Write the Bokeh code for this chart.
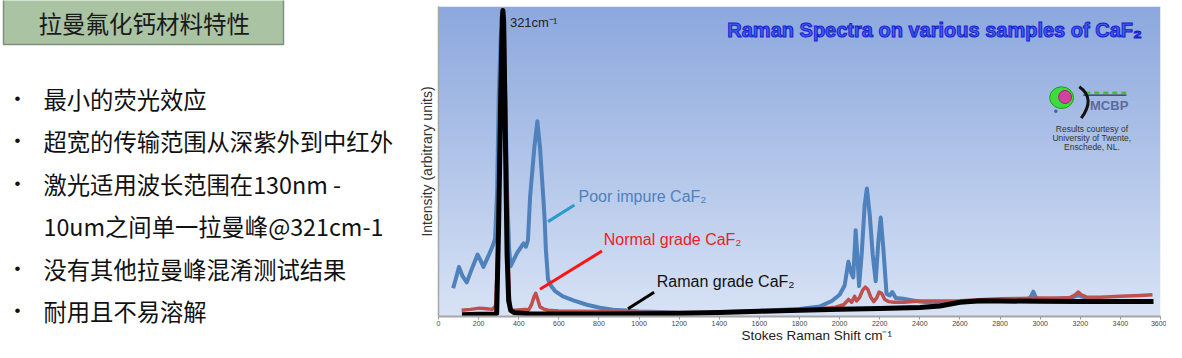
import numpy as np
from bokeh.plotting import figure
from bokeh.layouts import row, column
from bokeh.models import Range1d, Label, FixedTicker
from bokeh.core.properties import value
from bokeh.embed import file_html
from bokeh.resources import INLINE

# ---------------- data ----------------
title_cn = "拉曼氟化钙材料特性"
bullet_lines = ["最小的荧光效应", "超宽的传输范围从深紫外到中红外", "激光适用波长范围在130nm -",
                "10um之间单一拉曼峰@321cm-1", "没有其他拉曼峰混淆测试结果", "耐用且不易溶解"]
bullet_flags = [True, True, True, False, True, True]

x_ticks = list(range(0, 3601, 200))
x_title = "Stokes Raman Shift cm⁻¹"
y_title = "Intensity (arbitrary units)"

raman_x = [117, 200, 280, 290, 300, 310, 318, 321, 325, 333, 342, 350, 360, 380, 450, 600, 800, 1000,
           1200, 1400, 1600, 1800, 2000, 2200, 2400, 2500, 2600, 2700, 2800, 3000, 3200, 3400, 3565]
raman_y = [0.6, 0.7, 0.8, 1.0, 30, 70, 96, 98.7, 95, 60, 20, 5, 2, 1.2, 0.9, 0.8, 0.8, 0.9,
           1.0, 1.3, 1.7, 2.0, 2.3, 2.6, 2.9, 3.4, 4.6, 5.1, 5.0, 4.9, 4.8, 4.8, 4.8]

normal_x = [115, 160, 205, 240, 268, 285, 295, 305, 315, 322, 328, 336, 344, 352, 359, 380, 433, 449,
            465, 477, 485, 495, 506, 525, 546, 600, 800, 1000, 1200, 1400, 1600, 1800, 1900, 1980,
            2020, 2045, 2060, 2075, 2085, 2100, 2115, 2128, 2140, 2155, 2170, 2185, 2197, 2210, 2225,
            2245, 2270, 2320, 2400, 2600, 2800, 2900, 3000, 3100, 3150, 3175, 3190, 3205, 3230, 3300,
            3400, 3500, 3560]
normal_y = [2.0, 2.3, 2.7, 2.5, 2.3, 3.5, 20, 55, 88, 97, 90, 60, 25, 8, 1.8, 2.0, 2.3, 2.0,
            4.0, 6.5, 7.5, 5.5, 3.1, 2.4, 2.0, 1.8, 1.6, 1.4, 1.3, 1.4, 1.6, 2.0, 2.5, 3.0,
            3.8, 5.5, 4.6, 6.5, 5.0, 6.2, 8.5, 9.5, 8.8, 6.3, 4.8, 6.0, 7.9, 7.4, 5.5,
            4.8, 4.6, 4.6, 5.0, 5.1, 5.7, 5.8, 6.0, 5.9, 6.1, 7.0, 7.9, 7.0, 6.3, 6.2,
            6.5, 6.8, 7.0]

poor_x = [73, 90, 102, 120, 141, 170, 195, 210, 224, 245, 268, 282, 292, 300, 310, 318, 321, 326, 334,
          342, 352, 359, 392, 424, 436, 446, 457, 478, 493, 506, 522, 530, 535, 546, 560, 580, 620,
          676, 740, 805, 870, 936, 1000, 1200, 1400, 1600, 1800, 1900, 1961, 2000, 2025, 2044, 2058,
          2068, 2080, 2090, 2097, 2110, 2125, 2136, 2150, 2165, 2180, 2193, 2205, 2218, 2234, 2250,
          2263, 2280, 2317, 2400, 2500, 2600, 2700, 2800, 2900, 2940, 2955, 2966, 2977, 2990, 3050,
          3150, 3190, 3230, 3300]
poor_y = [9.1, 13, 16, 13, 11, 16, 20, 18, 16, 19, 22.4, 25, 40, 70, 90, 95, 96, 92, 70,
          40, 22, 16.2, 20.5, 23.6, 22.5, 24.6, 38.8, 54.6, 63, 54.6, 38.8, 30.4, 22, 12, 10, 8.3, 6.5,
          5.1, 3.8, 2.8, 2.2, 1.9, 1.6, 1.3, 1.4, 1.8, 2.4, 3.2, 5.0, 7.0, 10, 17.7, 14,
          12.6, 27.8, 18, 9.8, 20, 36, 41.3, 33, 20, 11.4, 24, 31.9, 22, 7.3, 6.8,
          7.9, 6.0, 5.7, 4.8, 4.3, 4.6, 4.9, 5.2, 5.4, 5.5, 6.5, 8.0, 6.3, 5.6, 5.7,
          6.0, 6.8, 6.0, 6.0]

# ---------------- left text panel ----------------
LW, H = 410, 342
left = figure(width=LW, height=H, x_range=Range1d(0, LW), y_range=Range1d(H, 0),
              output_backend="svg", toolbar_location=None, min_border=0)
left.axis.visible = False
left.grid.visible = False
left.outline_line_color = None
left.quad(left=3, right=283, top=-2, bottom=44, fill_color="#a9c3a3", line_color="#7f917c", line_width=1.5)
left.text(x=[38], y=[22], text=[title_cn], text_font=value("Noto Sans CJK SC"), text_font_size="23.5px",
          text_baseline="middle", text_color="#1a1a1a")
line_y = [98, 140, 183, 225, 268, 310]
left.text(x=[43] * len(bullet_lines), y=line_y, text=bullet_lines, text_font=value("Noto Sans CJK SC"),
          text_font_size="23.3px", text_baseline="middle", text_color="#111111")
bx = [14 for f in bullet_flags if f]
by = [yy for yy, f in zip(line_y, bullet_flags) if f]
left.text(x=bx, y=by, text=["•"] * len(bx), text_font=value("Liberation Sans"), text_font_size="17px",
          text_baseline="middle", text_color="#111111")

# ---------------- chart ----------------
RW = 1166 - LW
TH = 14                # height of the strip holding the x-axis title
PH = H - TH
p = figure(width=RW, height=PH, x_range=Range1d(0, 3600), y_range=Range1d(0, 100),
           output_backend="svg", toolbar_location=None,
           min_border_left=28, min_border_right=6, min_border_top=6, min_border_bottom=12)
p.grid.visible = False
p.outline_line_color = None

# gradient background
n = 256
top_c = np.array([140, 168, 222], dtype=float)
bot_c = np.array([216, 227, 245], dtype=float)
t = np.linspace(0, 1, n)[:, None]
cols = bot_c + (top_c - bot_c) * t
img = np.empty((n, 2), dtype=np.uint32)
view = img.view(dtype=np.uint8).reshape((n, 2, 4))
for k in range(3):
    view[:, :, k] = cols[:, k][:, None].astype(np.uint8)
view[:, :, 3] = 255
p.image_rgba(image=[img], x=0, y=0, dw=3600, dh=100)

p.line(poor_x, poor_y, line_color="#4f81bd", line_width=4, line_join="round")
p.line(normal_x, normal_y, line_color="#c0504d", line_width=3.5, line_join="round")
p.line(raman_x, raman_y, line_color="#000000", line_width=5, line_join="round")

# leader lines
p.segment(x0=[546], y0=[30.6], x1=[678], y1=[36.0], line_color="#2a9bcc", line_width=3)
p.segment(x0=[506], y0=[8.8], x1=[815], y1=[21.1], line_color="#ff1414", line_width=3)
p.segment(x0=[945], y0=[2.5], x1=[1075], y1=[7.8], line_color="#000000", line_width=3)

F = "Liberation Sans"
def lab(x, y, text, size, color, align="left", style="normal", font=F, **kw):
    p.add_layout(Label(x=x, y=y, text=text, text_font=font, text_font_size=size, text_color=color,
                       text_align=align, text_baseline="middle", text_font_style=style, **kw))

lab(698, 38.8, "Poor impure CaF₂", "16px", "#4f81bd")
lab(824, 24.9, "Normal grade CaF₂", "16px", "#ee1c25")
lab(1088, 11.4, "Raman grade CaF₂", "16px", "#111111")
lab(356, 95.0, "321cm⁻¹", "13px", "#222222")
lab(1440, 92.4, "Raman Spectra on various samples of CaF₂", "20px", "#3f5ff0", style="bold",
    text_outline_color="#1a1ad0")

# logo
p.ellipse(x=[3107], y=[70.6], width=[119], height=[7.0], fill_color="#3ddc3a", line_color="#18a018", line_width=1)
p.ellipse(x=[3124], y=[70.8], width=[64], height=[4.2], fill_color="#d8409f", line_color="#a02080", line_width=1)
p.scatter(x=[3078], y=[66.2], size=3.5, fill_color="#4060a0", line_color=None)
p.segment(x0=[3215], y0=[71.4], x1=[3430], y1=[71.4], line_color="#333333", line_width=1.2)
p.segment(x0=[3225], y0=[72.2], x1=[3430], y1=[72.2], line_color="#44bb44", line_width=2.5, line_dash="5 4")
p.quadratic(x0=[3195], y0=[74.1], x1=[3205], y1=[64.0], cx=[3278], cy=[70.3], line_color="#111111", line_width=3)
lab(3344, 68.1, "MCBP", "13px", "#5b6b9c", align="center", style="bold")
lab(3258, 60.6, "Results courtesy of", "8.5px", "#333333", align="center")
lab(3258, 57.5, "University of Twente,", "8.5px", "#333333", align="center")
lab(3258, 54.6, "Enschede, NL.", "8.5px", "#333333", align="center")

# axes
p.xaxis.ticker = FixedTicker(ticks=x_ticks)
p.xaxis.major_label_text_font = F
p.xaxis.major_label_text_font_size = "7px"
p.xaxis.major_label_text_color = "#444444"
p.xaxis.major_label_standoff = 1
p.xaxis.axis_line_color = "#a6a6a6"
p.xaxis.axis_line_width = 2
p.xaxis.major_tick_line_color = "#999999"
p.xaxis.major_tick_in = 0
p.xaxis.major_tick_out = 3
p.xaxis.minor_tick_line_color = None

p.yaxis.ticker = FixedTicker(ticks=[])
p.yaxis.axis_label = y_title
p.yaxis.axis_label_text_font = F
p.yaxis.axis_label_text_font_size = "14px"
p.yaxis.axis_label_text_font_style = "normal"
p.yaxis.axis_label_text_color = "#333333"
p.yaxis.axis_label_standoff = 4
p.yaxis.major_tick_line_color = None
p.yaxis.minor_tick_line_color = None
p.yaxis.axis_line_color = "#a6a6a6"
p.yaxis.axis_line_width = 1.5

# strip below the chart carrying the x-axis title
xt = figure(width=RW, height=TH, x_range=Range1d(0, RW), y_range=Range1d(0, TH),
            output_backend="svg", toolbar_location=None, min_border=0)
xt.axis.visible = False
xt.grid.visible = False
xt.outline_line_color = None
xt.text(x=[396], y=[TH / 2], text=[x_title], text_font=value(F), text_font_size="13.5px",
        text_align="center", text_baseline="middle", text_color="#222222")

layout = row(left, column(p, xt, spacing=0), spacing=0)
open("out.html", "w").write(file_html(layout, INLINE))
